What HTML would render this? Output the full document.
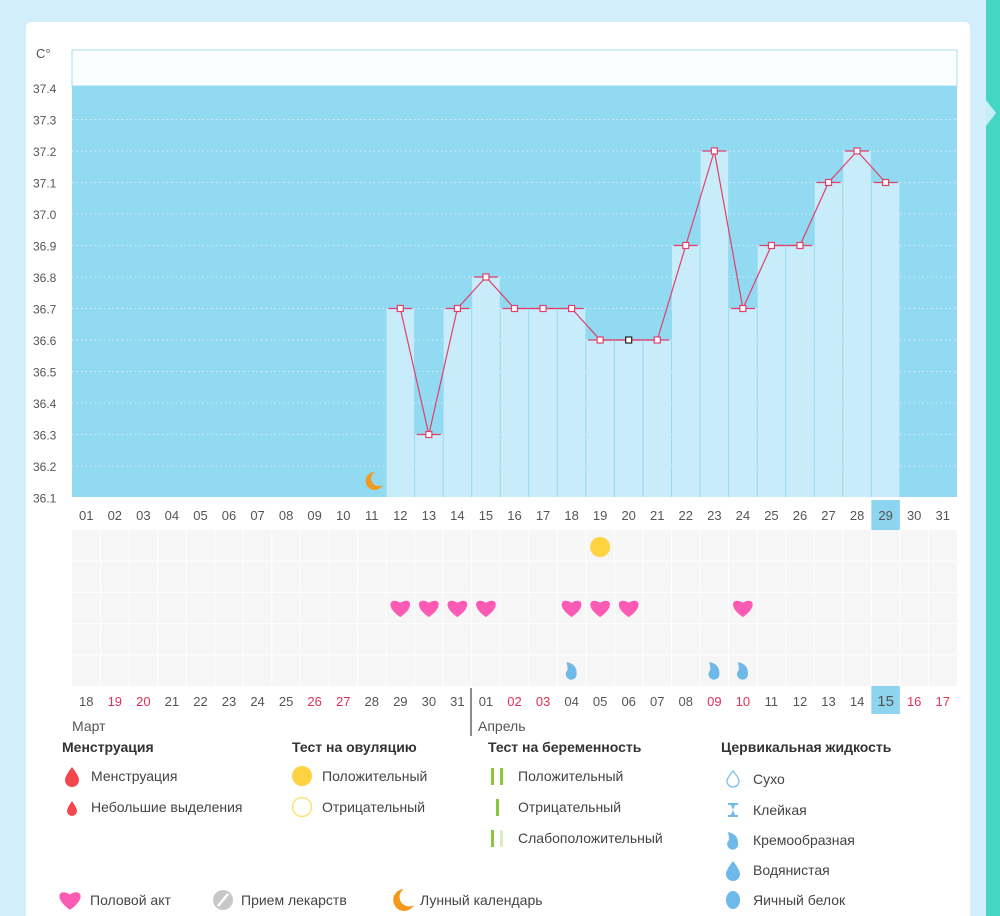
<!DOCTYPE html>
<html><head><meta charset="utf-8">
<style>
body{margin:0;width:1000px;height:916px;overflow:hidden;background:#d2eefa;font-family:"Liberation Sans","DejaVu Sans",sans-serif;}
svg{position:absolute;left:0;top:0}
</style></head>
<body>
<svg id="c" width="1000" height="916" xmlns="http://www.w3.org/2000/svg">
<rect x="26" y="22" width="944" height="900" rx="5" fill="#fff"/>
<rect x="986" y="0" width="14" height="916" fill="#44d6c2"/>
<polygon points="986,100 996,113 986,126" fill="#c8eef5"/>
<rect x="72" y="50" width="885" height="36" fill="#fbfefe" stroke="#a8dcea" stroke-width="1"/>
<rect x="72" y="86" width="885" height="411" fill="#92d9f2"/>
<text x="36" y="58" font-size="13" fill="#555">C°</text>
<g id="g"></g>
</svg>
<script>
const days=[...Array(31)].map((_,i)=>String(i+1).padStart(2,'0'));
const tempDays=[12,13,14,15,16,17,18,19,20,21,22,23,24,25,26,27,28,29];
const temps=[36.7,36.3,36.7,36.8,36.7,36.7,36.7,36.6,36.6,36.6,36.9,37.2,36.7,36.9,36.9,37.1,37.2,37.1];
const yTicks=["37.4","37.3","37.2","37.1","37.0","36.9","36.8","36.7","36.6","36.5","36.4","36.3","36.2","36.1"];
const lowerDays=["18","19","20","21","22","23","24","25","26","27","28","29","30","31","01","02","03","04","05","06","07","08","09","10","11","12","13","14","15","16","17"];
const redLower=[1,2,8,9,15,16,22,23,29,30];
const heartDays=[12,13,14,15,18,19,20,24];
const ovulDays=[19];
const fluidDays=[18,23,24];
const moonDays=[11];
const todayDay=29;
const NS="http://www.w3.org/2000/svg";
const g=document.getElementById('g');
const X0=72,CW=885/31;
const cx=d=>X0+(d-0.5)*CW;
const y=v=>88+(37.4-v)*315;
function el(t,a,p){const e=document.createElementNS(NS,t);for(const k in a)e.setAttribute(k,a[k]);(p||g).appendChild(e);return e;}
function txt(x,yy,s,a){const e=el('text',Object.assign({x:x,y:yy,'font-size':13},a));e.textContent=s;return e;}
yTicks.forEach((t,i)=>{const v=parseFloat(t);const yy=y(v);
 const l=txt(33,yy+5,t,{'font-size':12,fill:'#555'});
 
 
 if(i>0&&i<13){const gl=el('line',{x1:X0,x2:957,y1:yy,y2:yy,stroke:'#fff','stroke-opacity':.6,'stroke-dasharray':'1.5,3'});
 
 }
});
tempDays.forEach((d,i)=>{const v=temps[i];const yy=y(v);
 const b=el('rect',{x:X0+(d-1)*CW+0.5,y:yy,width:CW-1,height:497-yy,fill:'#c9ecfa'});
 
 
});
const pts=tempDays.map((d,i)=>cx(d)+','+y(temps[i])).join(' ');
const pl=el('polyline',{points:pts,fill:'none',stroke:'#e0406a','stroke-width':1.2});


tempDays.forEach((d,i)=>{const yy=y(temps[i]);
 el('line',{x1:cx(d)-12,x2:cx(d)+12,y1:yy,y2:yy,stroke:'#e0406a','stroke-width':1.3});
 const m=el('rect',{x:cx(d)-3,y:yy-3,width:6,height:6,fill:'#fff',stroke:d===20?'#222':'#e0406a','stroke-width':1.2});
 
 
});
moonDays.forEach(d=>{const m=el('path',{d:`M${cx(d)+3},${472} a9,9 0 1,0 8,13 a7,7 0 1,1 -8,-13z`,fill:'#f39a1e'});
 
 });
el('rect',{x:X0,y:530,width:885,height:156,fill:'#f6f6f6'});
for(let d=1;d<31;d++)el('line',{x1:X0+d*CW,x2:X0+d*CW,y1:530,y2:686,stroke:'#fff','stroke-width':1});
for(let r=1;r<5;r++)el('line',{x1:X0,x2:957,y1:530+r*31.2,y2:530+r*31.2,stroke:'#fff','stroke-width':1});
days.forEach((s,i)=>{const d=i+1;
 if(d===todayDay)el('rect',{x:X0+i*CW,y:500,width:CW,height:30,fill:'#8dd5ee'});
 const t=txt(cx(d),520,s,{'text-anchor':'middle',fill:'#555'});
 
 
});
lowerDays.forEach((s,i)=>{
 if(i===28)el('rect',{x:X0+i*CW,y:686,width:CW,height:28,fill:'#8dd5ee'});
 const t=txt(cx(i+1),706,s,{'text-anchor':'middle',fill:redLower.includes(i)?'#e0305a':'#555','font-size':i===28?15:13});
 
 
});
el('line',{x1:471,x2:471,y1:688,y2:736,stroke:'#666','stroke-width':1.5});
txt(72,731,'Март',{fill:'#555','font-size':14});
txt(478,731,'Апрель',{fill:'#555','font-size':14});
function heart(x,yy,s){return el('path',{d:`M${x},${yy+7*s} C${x-12*s},${yy-1*s} ${x-8*s},${yy-9*s} ${x},${yy-4*s} C${x+8*s},${yy-9*s} ${x+12*s},${yy-1*s} ${x},${yy+7*s}z`,fill:'#fb5bb5'});}
heartDays.forEach(d=>{const h=heart(cx(d),608,1.3);});
ovulDays.forEach(d=>{const c=el('circle',{cx:cx(d),cy:547,r:10,fill:'#fdd342'});});
function cream(x,yy){return el('path',{d:`M${x-5},${yy-8} q10,2 10,11 a5.5,5.5 0 1,1 -9,-3 q0,-4 -1,-8z`,fill:'#6fb9ea'});}
fluidDays.forEach(d=>{const f=cream(cx(d),670);});
const H={'font-size':14,'font-weight':'bold',fill:'#333'},T={'font-size':14,fill:'#444'};
[['Менструация',62],['Тест на овуляцию',292],['Тест на беременность',488],['Цервикальная жидкость',721]].forEach(([s,x])=>{const t=txt(x,752,s,H);});
function item(x,yy,s){const t=txt(x,yy+5,s,T);}
el('path',{d:'M72,767 q7,9 7,13 a7,7 0 1,1 -14,0 q0,-4 7,-13z',fill:'#f2474f'});item(91,776,'Менструация');
el('path',{d:'M72,801 q5,7 5,10 a5,5 0 1,1 -10,0 q0,-3 5,-10z',fill:'#f2474f'});item(91,807,'Небольшие выделения');
el('circle',{cx:302,cy:776,r:10,fill:'#fdd342'});item(322,776,'Положительный');
el('circle',{cx:302,cy:807,r:9.5,fill:'none',stroke:'#fde27a','stroke-width':1.5});item(322,807,'Отрицательный');
[[491,768],[500,768],[496,799],[491,830]].forEach(([x,yy])=>el('rect',{x:x,y:yy,width:3,height:17,fill:'#8cc63f'}));
el('rect',{x:500,y:830,width:3,height:17,fill:'#dcecc4'});
item(518,776,'Положительный');item(518,807,'Отрицательный');item(518,838,'Слабоположительный');
el('path',{d:'M733,771 q6,7 6,10 a6,6 0 1,1 -12,0 q0,-3 6,-10z',fill:'none',stroke:'#7bbfe9','stroke-width':1.3});item(753,779,'Сухо');
el('path',{d:'M728,803 h10 v2 h-3 l-2,5 l2,5 h3 v2 h-10 v-2 h3 l2,-5 l-2,-5 h-3z',fill:'#6fb9ea'});item(753,810,'Клейкая');
cream(733,840);item(753,840,'Кремообразная');
el('path',{d:'M733,861 q7,9 7,13 a7,7 0 1,1 -14,0 q0,-4 7,-13z',fill:'#6fb9ea'});item(753,870,'Водянистая');
el('ellipse',{cx:733,cy:900,rx:7,ry:9,fill:'#6fb9ea'});item(753,900,'Яичный белок');
heart(70,900,1.4);item(90,900,'Половой акт');
el('circle',{cx:223,cy:900,r:10,fill:'#c8c8c8'});el('line',{x1:218,y1:906,x2:228,y2:894,stroke:'#fff','stroke-width':2.5});item(241,900,'Прием лекарств');
el('path',{d:'M404,889 a11,11 0 1,0 10,16 a9,9 0 1,1 -10,-16z',fill:'#f39a1e'});item(420,900,'Лунный календарь');
</script>
</body></html>
